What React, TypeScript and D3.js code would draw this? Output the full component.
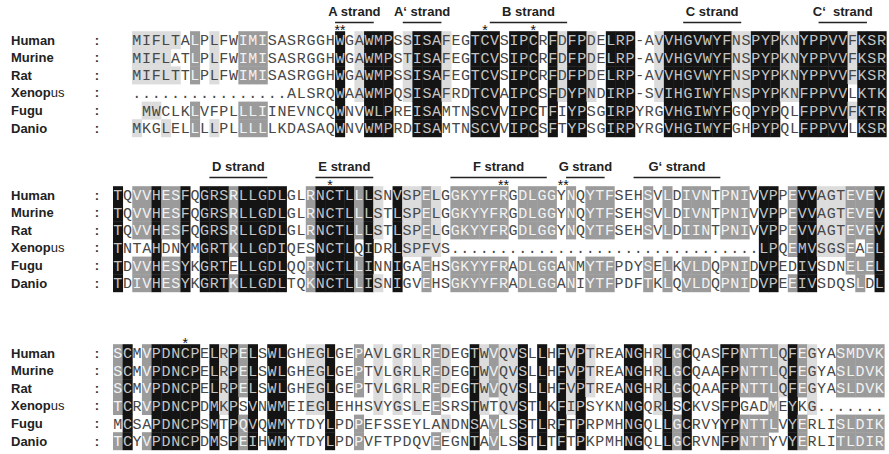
import React from "react";
import * as d3 from "d3";

// species order, one row per species in every block
const species = ["Human", "Murine", "Rat", "Xenopus", "Fugu", "Danio"];

// residues and shading are written in groups of ten columns; "|" is only a separator
const cols = (s: string) => s.replace(/\|/g, "");

// block 1 residues (78 columns)
const block1Seqs = [
  cols("MIFLTALPLF|WIMISASRGG|HWGAWMPSSI|SAFEGTCVSI|PCRFDFPDEL|RP-AVVHGVW|YFNSPYPKNY|PPVVFKSR"),
  cols("MIFLATLPLF|WIMISASRGG|HWGAWMPSTI|SAFEGTCVSI|PCRFDFPDEL|RP-AVVHGVW|YFNSPYPKNY|PPVVFKSR"),
  cols("MIFLTTLPLF|WIMISASRGG|HWGAWMPSSI|SAFEGTCVSI|PCRFDFPDEL|RP-AVVHGVW|YFNSPYPKNY|PPVVFKSR"),
  cols("..........|......ALSR|QWAAWMPQSI|SAFRDTCVAI|PCSFDYPNDI|RP-SVIHGIW|YFNSPYPKNF|PPVVLKTK"),
  cols(" MWCLKLVFP|LLLIINEVNC|QWNVWLPREI|SAMTNSCVVI|PCTFIYPSGI|RPYRGVHGIW|YFGQPYPQLF|PPVVFKTR"),
  cols("MKGLELLLLP|LLLLLKDASA|QWNVWMPRDI|SAMTNSCVVI|PCSFTYPSGI|RPYRGVHGIW|YFGHPYPQLF|PPVVLKSR"),
];
// conservation class per residue: b = 100%, g = 80%, l = 60%, - = none
const block1Shades = [
  cols("lllll-g-l-|-ggg------|-b-lbbb-lb|bbl--bbb-b|bb-blbbl-b|bb--lbbbbb|bbllbbbllb|bbbblbbb"),
  cols("llll--g-l-|-ggg------|-b-lbbb-lb|bbl--bbb-b|bb-blbbl-b|bb--lbbbbb|bbllbbbllb|bbbblbbb"),
  cols("lllll-g-l-|-ggg------|-b-lbbb-lb|bbl--bbb-b|bb-blbbl-b|bb--lbbbbb|bbllbbbllb|bbbblbbb"),
  cols("----------|----------|-b-lbbb-lb|bbl--bbb-b|bb-blbbl-b|bb--lbbbbb|bbllbbbllb|bbbb-bbb"),
  cols("-ll---g---|-ggg------|-b--bbb--b|bb---bbb-b|bb-b-bb--b|bb---bbbbb|bb--bbb--b|bbbblbbb"),
  cols("l--l--g-l-|-ggg------|-b--bbb--b|bb---bbb-b|bb-b-bb--b|bb---bbbbb|bb--bbb--b|bbbb-bbb"),
];
const block1Strands = [
  { label: "A strand", from: 21, to: 24 },
  { label: "A\u2018 strand", from: 28, to: 31 },
  { label: "B strand", from: 37, to: 44 },
  { label: "C strand", from: 57, to: 62 },
  { label: "C\u2018  strand", from: 71, to: 75 },
];
const block1Stars = [
  { col: 21, mark: "**" },
  { col: 36, mark: "*" },
  { col: 41, mark: "*" },
];

// block 2 residues (80 columns)
const block2Seqs = [
  cols("TQVVHESFQG|RSRLLGDLGL|RNCTLLLSNV|SPELGGKYYF|RGDLGGYNQY|TFSEHSVLDI|VNTPNIVVPP|EVVAGTEVEV"),
  cols("TQVVHESFQG|RSRLLGDLGL|RNCTLLLSTL|SPELGGKYYF|RGDLGGYNQY|TFSEHSVLDI|VNTPNIVVPP|EVVAGTEVEV"),
  cols("TQVVHESFQG|RSRLLGDLGL|RNCTLLLSTL|SPELGGKYYF|RGDLGGYNQY|TFSEHSVLDI|INTPNIVVPP|EVVAGTEVEV"),
  cols("TNTAHDNYMG|RTKLLGDIQE|SNCTLQIDRL|SPFVS.....|..........|..........|.......LPQ|EMVSGSEAEL"),
  cols("TDVVHESYKG|RTELLGDLQQ|RNCTLLINNI|GAEHSGKYYF|RADLGGANMY|TFPDYSELKV|LDQPNIDVPE|DIVSDNELEL"),
  cols("TDIVHESYKG|RTKLLGDLTQ|KNCTLLISNI|GVEHSGKYYF|RADLGGANIY|TFPDFTKLQV|LDQPNIDVPE|EIVSDQSLDL"),
];
const block2Shades = [
  cols("b-ggbggb-b|bbgbbbbb--|gbbbbgbl-b|llgl-ggggg|g-gggg-g-g|gg---g-g-g|gg-ggg-bb-|gbblllgggb"),
  cols("b-ggbggb-b|bbgbbbbb--|gbbbbgbl-b|llgl-ggggg|g-gggg-g-g|gg---g-g-g|gg-ggg-bb-|gbblllgggb"),
  cols("b-ggbggb-b|bbgbbbbb--|gbbbbgbl-b|llgl-ggggg|g-gggg-g-g|gg---g-g-g|gg-ggg-bb-|gbblllgggb"),
  cols("b---b--b-b|bbgbbbbb--|-bbbb-b--b|llll------|----------|----------|-------bb-|gbblllg-gb"),
  cols("b-ggbggb-b|bb-bbbbb--|gbbbbgb--b|--g--ggggg|g-gggg-g-g|gg---g-g-g|gg-ggg-bb-|-bb---gggb"),
  cols("b-ggbggb-b|bbgbbbbb--|gbbbbgbl-b|--g--ggggg|g-gggg-g-g|gg---g-g-g|gg-ggg-bb-|gbb----g-b"),
];
const block2Strands = [
  { label: "D strand", from: 10, to: 15 },
  { label: "E strand", from: 21, to: 26 },
  { label: "F strand", from: 35, to: 44 },
  { label: "G strand", from: 47, to: 50 },
  { label: "G\u2018 strand", from: 54, to: 62 },
];
const block2Stars = [
  { col: 22, mark: "*" },
  { col: 40, mark: "**" },
  { col: 46.2, mark: "**" },
];

// block 3 residues (80 columns)
const block3Seqs = [
  cols("SCMVPDNCPE|LRPELSWLGH|EGLGEPAVLG|RLREDEGTWV|QVSLLHFVPT|REANGHRLGC|QASFPNTTLQ|FEGYASMDVK"),
  cols("SCMVPDNCPE|LRPELSWLGH|EGLGEPTVLG|RLREDEGTWV|QVSLLHFVPT|REANGHRLGC|QAAFPNTTLQ|FEGYASLDVK"),
  cols("SCMVPDNCPE|LRPELSWLGH|EGLGEPTVLG|RLREDEGTWV|QVSLLHFVPT|REANGHRLGC|QAAFPNTTLQ|FEGYASLDVK"),
  cols("TCRVPDNCPD|MKPSVNWMEI|EGLEHHSVYG|SLEESRSTWT|QVSTLKFIPS|YKNNGQRLSC|KVSFPGADME|YKG......."),
  cols("MCSAPDNCPS|MTPQVQWMYT|DYLPDPEFSS|EYLANDNSAV|LSSTLRFTPR|PMHNGQLLGC|RVYYPNTTLV|YERLISLDIK"),
  cols("TCYVPDNCPD|MSPEIHWMYT|DYLPDPVFTP|DQVEEGNTAV|LSSTLTFTPK|PMHNGQLLGC|RVNFPNTTYV|YERLITLDIR"),
];
const block3Shades = [
  cols("gb-gbbbbb-|blbgb-bb--|llb--g-l-l|-l-gl--blg|llb-b-blbl|---bb-lbgb|---bbggggl|bgl--ggggg"),
  cols("gb-gbbbbb-|blbgb-bb--|llb--g-l-l|-l-gl--blg|llb-b-blbl|---bb-lbgb|---bbggggl|bgl--ggggg"),
  cols("gb-gbbbbb-|blbgb-bb--|llb--g-l-l|-l-gl--blg|llb-b-blbl|---bb-lbgb|---bbggggl|bgl--ggggg"),
  cols("gb-gbbbbb-|blb-b-bb--|llb----l-l|-l-g---bl-|llb-b-blb-|---bb-lb-b|---bb---g-|b-l-------"),
  cols("-b--bbbbb-|b-bgb-bb--|--b--g----|----l--b-g|--b-b-b-b-|---bb--bgb|---bbgggg-|bg---ggggg"),
  cols("gb-gbbbbb-|b-bgb-bb--|--b--g----|---g---b-g|--b-b-b-b-|---bb--bgb|---bbggg--|bg---ggggg"),
];
const block3Strands: { label: string; from: number; to: number }[] = [];
const block3Stars = [{ col: 7, mark: "*" }];

const SHADE_FILL: Record<string, string> = { b: "#141414", g: "#9b9b9b", l: "#dcdcdc" };
const TEXT_FILL: Record<string, string> = { b: "#c4c4c4", g: "#f2f2f2", l: "#474747", "-": "#474747" };

const ROW_H = 17.6;
const SANS = "'Liberation Sans', Arial, sans-serif";

function Block({ rowCenter, x0, cw, seqs, shades, strands, stars }: any) {
  const n = seqs[0].length;
  const x = d3.scaleLinear().domain([0, n]).range([x0, x0 + n * cw]);
  const top = rowCenter - ROW_H / 2;
  const y = d3.scaleBand().domain(species).range([top, top + ROW_H * species.length]);
  const bw = y.bandwidth();

  return (
    <g>
      {strands.map((s: any) => (
        <g key={s.label}>
          <text
            x={(x(s.from) + x(s.to + 1)) / 2}
            y={rowCenter - 24}
            textAnchor="middle"
            fontFamily={SANS}
            fontWeight="bold"
            fontSize={13}
            fill="#222"
            style={{ whiteSpace: "pre" }}
          >
            {s.label}
          </text>
          <line x1={x(s.from)} x2={x(s.to + 1)} y1={rowCenter - 17.5} y2={rowCenter - 17.5} stroke="#222" strokeWidth={1.4} />
        </g>
      ))}
      {stars.map((s: any, i: number) => (
        <text key={"st" + i} x={x(s.col) + cw / 2} y={rowCenter - 5} textAnchor="middle" fontFamily={SANS} fontSize={14} fill="#111">
          {s.mark}
        </text>
      ))}
      {species.map((sp, r) => {
        const yc = (y(sp) as number) + bw / 2;
        const seq: string = seqs[r];
        const sh: string = shades[r];
        return (
          <g key={sp}>
            <text x={11} y={yc + 4.6} fontFamily={SANS} fontWeight="bold" fontSize={13} fill="#222">
              {sp === "Xenopus" ? (
                <>
                  Xenop<tspan fontWeight="normal">us</tspan>
                </>
              ) : (
                sp
              )}
            </text>
            <text x={97} y={yc + 4.6} textAnchor="middle" fontFamily={SANS} fontWeight="bold" fontSize={13} fill="#333">
              :
            </text>
            {seq.split("").map((ch, c) => {
              const k = sh[c] || "-";
              return SHADE_FILL[k] ? (
                <rect key={"r" + c} x={x(c)} y={y(sp)} width={cw + 0.4} height={bw + 0.4} fill={SHADE_FILL[k]} />
              ) : null;
            })}
            {seq.split("").map((ch, c) => {
              const k = sh[c] || "-";
              return ch === " " ? null : (
                <text
                  key={"t" + c}
                  x={x(c) + cw / 2}
                  y={yc + 5.2}
                  textAnchor="middle"
                  fontFamily="'Liberation Mono', 'Courier New', monospace"
                  fontSize={15}
                  fill={TEXT_FILL[k]}
                >
                  {ch}
                </text>
              );
            })}
          </g>
        );
      })}
    </g>
  );
}

export default function App() {
  return (
    <svg width={889} height={454} style={{ position: "absolute", left: 0, top: 0, background: "#fff" }}>
      <rect x={0} y={0} width={889} height={454} fill="#fff" />
      <Block rowCenter={40} x0={132} cw={9.67} seqs={block1Seqs} shades={block1Shades} strands={block1Strands} stars={block1Stars} />
      <Block rowCenter={195} x0={113} cw={9.64} seqs={block2Seqs} shades={block2Shades} strands={block2Strands} stars={block2Stars} />
      <Block rowCenter={353} x0={113} cw={9.64} seqs={block3Seqs} shades={block3Shades} strands={block3Strands} stars={block3Stars} />
    </svg>
  );
}
